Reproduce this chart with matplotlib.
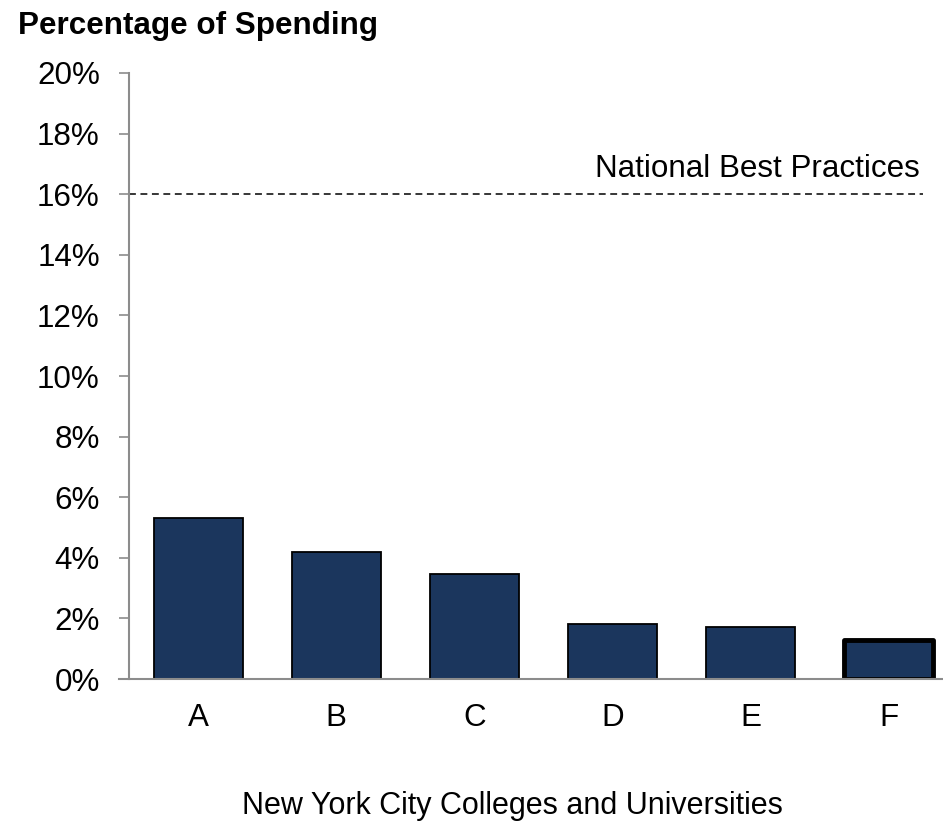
import numpy as np
import matplotlib.pyplot as plt
from matplotlib.ticker import FuncFormatter

plt.rcParams['font.family'] = ['Liberation Sans', 'DejaVu Sans']

# share of spending per school
schools = ['A', 'B', 'C', 'D', 'E', 'F']
spending = [5.3, 4.2, 3.45, 1.8, 1.7, 1.3]
best_practice = 16.0
best_label = 'National Best Practices'

bar_color = '#1B365D'
grey = '#8C8C8C'
fs = 22.6

fig = plt.figure(figsize=(9.43, 8.3), dpi=100)
ax = fig.add_axes([129 / 943, 151 / 830, 829 / 943, 606 / 830])

x = np.arange(len(schools))
bars = ax.bar(x, spending, width=0.645, color=bar_color, edgecolor='black', linewidth=1.3)
# last school gets a heavy outline
bars[-1].set_linewidth(3.5)
bars[-1].set_joinstyle('round')

ax.plot([-0.5, 5.246], [best_practice, best_practice], color='black', linestyle=(0, (4.5, 3)),
        linewidth=1.1, clip_on=False)
ax.text(5.225, best_practice + 0.35, best_label, ha='right', va='bottom', fontsize=fs)

ax.set_xlim(-0.5, 5.5)
ax.set_ylim(0, 20)
ax.set_yticks(np.arange(0, 21, 2))
ax.yaxis.set_major_formatter(FuncFormatter(lambda v, p: f'{v:.0f}%'))
ax.set_xticks(x)
ax.set_xticklabels(schools)

for s in ['top', 'right']:
    ax.spines[s].set_visible(False)
for s in ['left', 'bottom']:
    ax.spines[s].set_color(grey)
    ax.spines[s].set_linewidth(1.5)
ax.spines['bottom'].set_bounds(-0.57, 5.5)

ax.tick_params(axis='y', length=7, width=1.2, color=grey, pad=14, labelsize=fs)
ax.tick_params(axis='x', length=0, pad=17, labelsize=fs)

fig.text(18 / 943, 1 - 26 / 830, 'Percentage of Spending', fontsize=fs, fontweight='bold',
         ha='left', va='center')
fig.text(512 / 943, 1 - 806 / 830, 'New York City Colleges and Universities', fontsize=22,
         ha='center', va='center')

fig.savefig('out.png', dpi=100)
